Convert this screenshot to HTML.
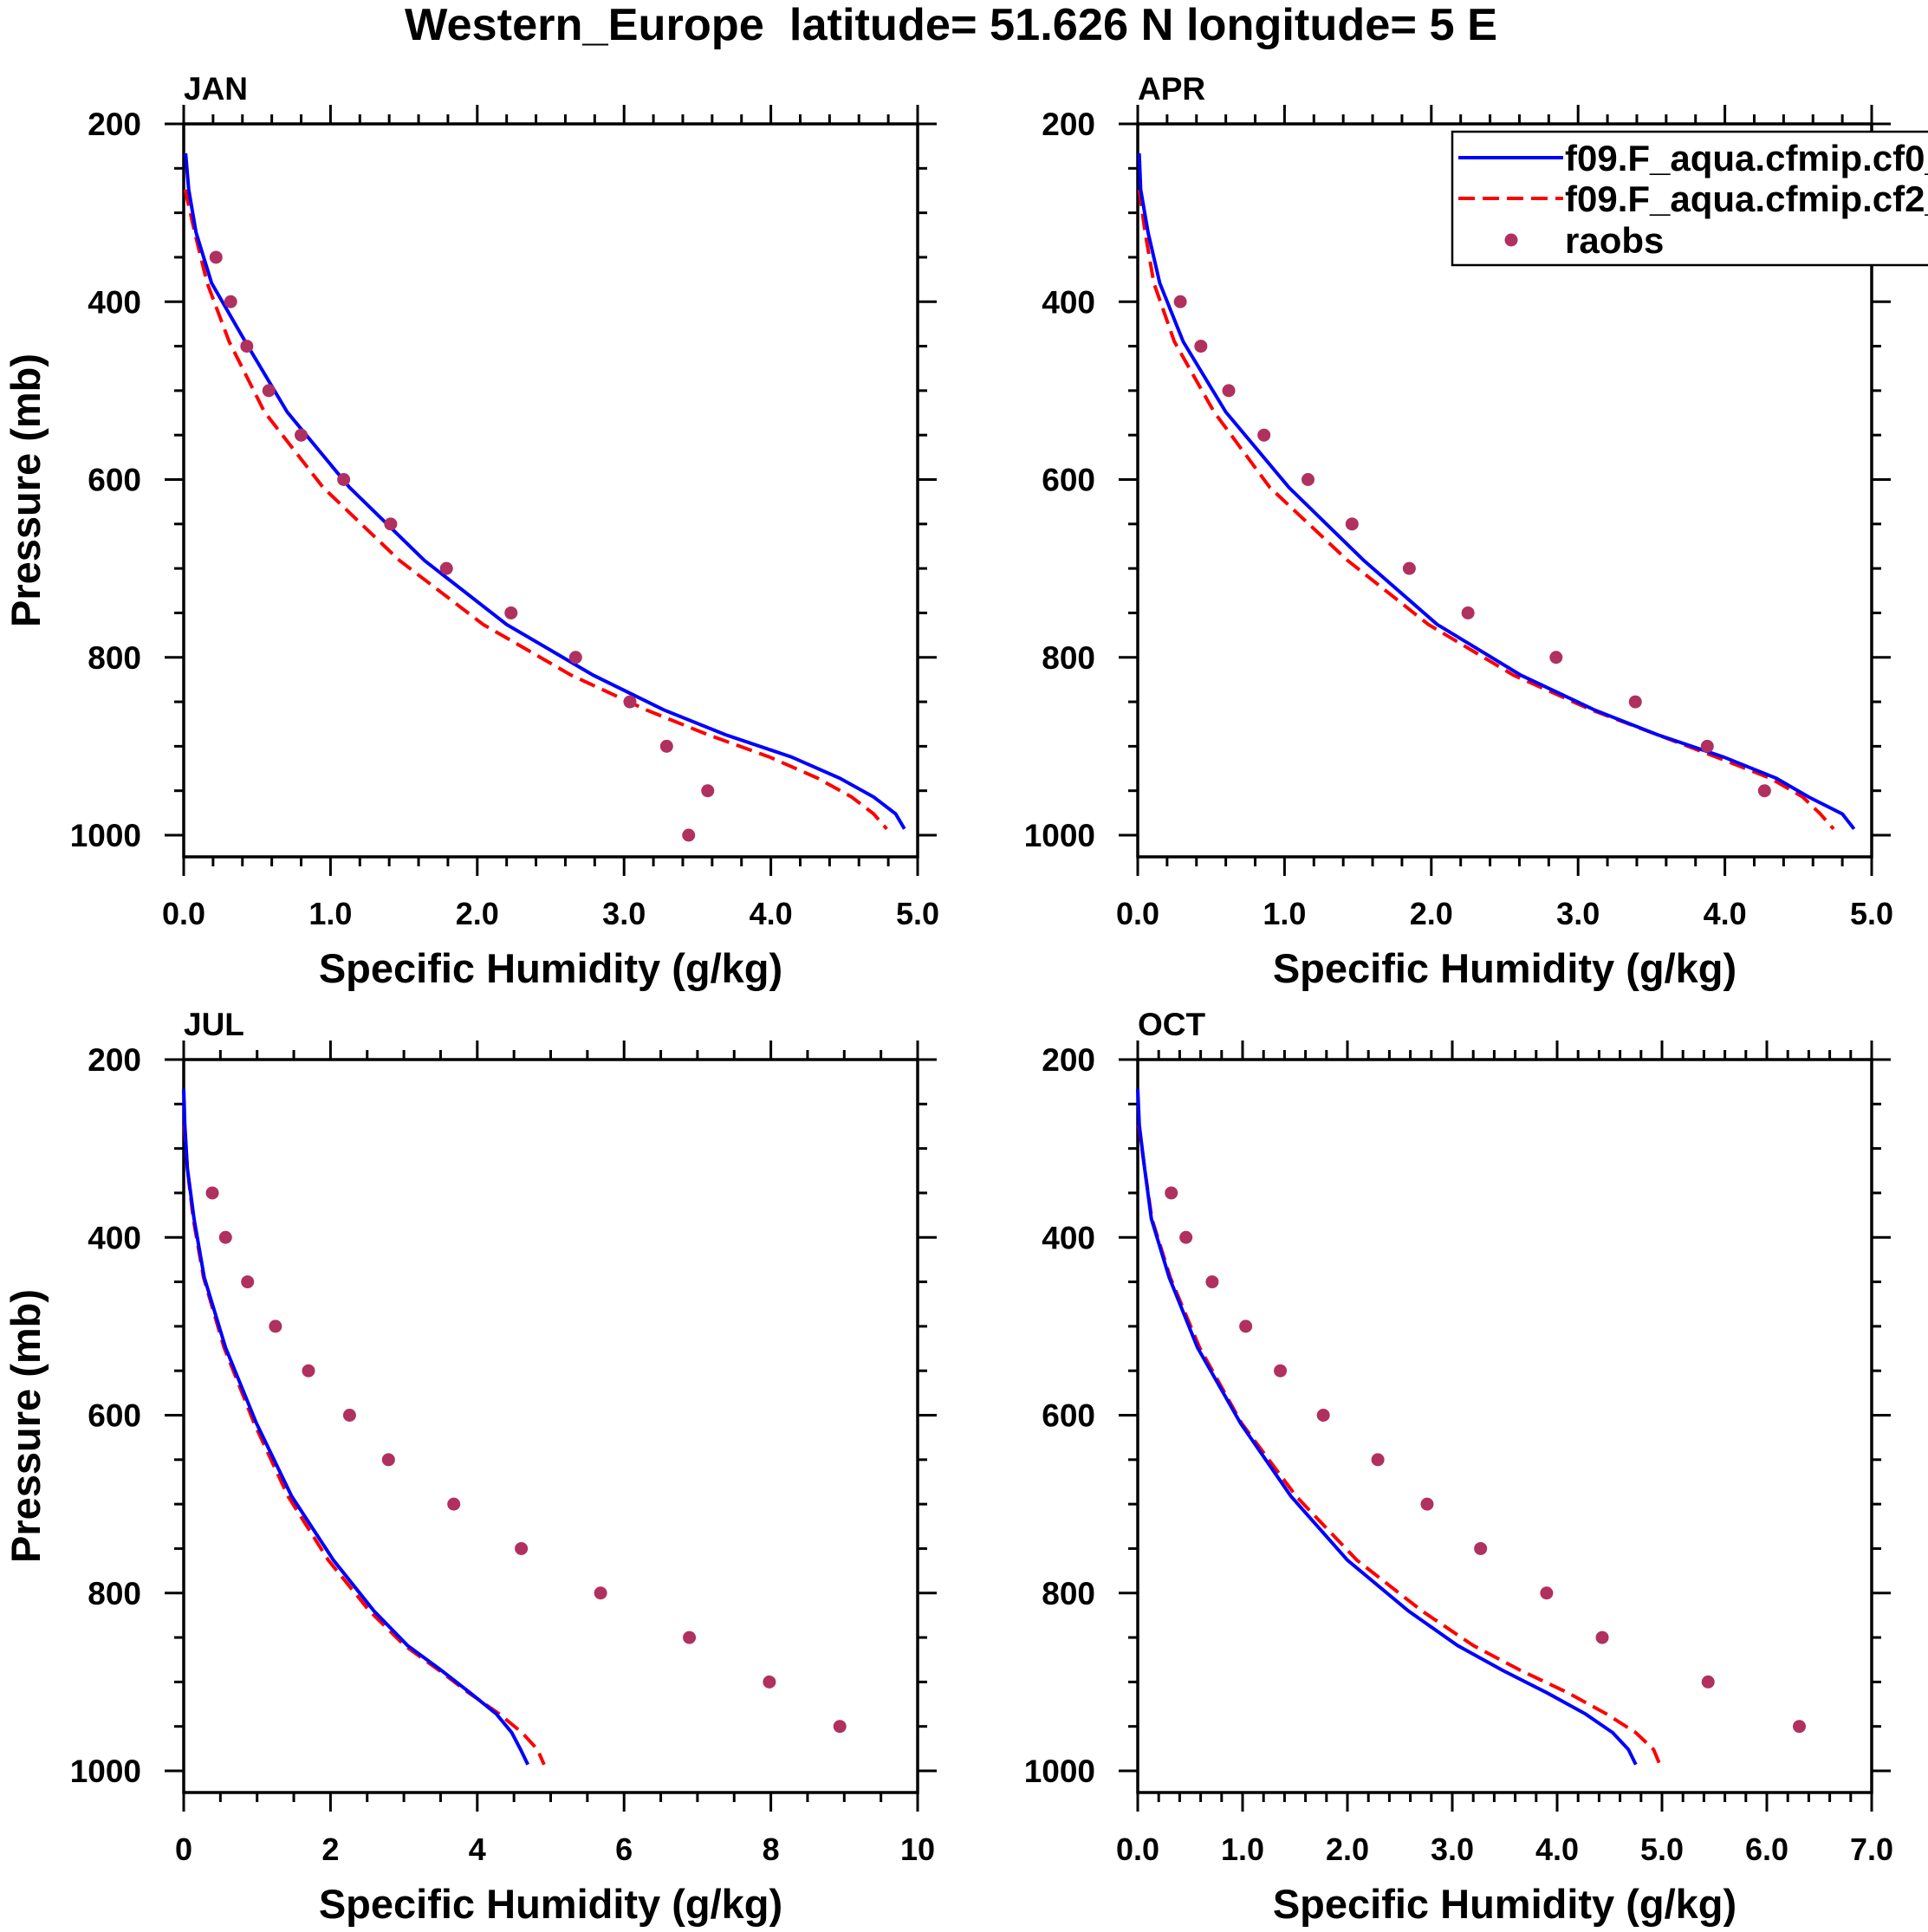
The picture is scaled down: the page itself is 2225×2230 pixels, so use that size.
<!DOCTYPE html>
<html><head><meta charset="utf-8"><style>
html,body{margin:0;padding:0;background:#fff;width:2225px;height:2230px;overflow:hidden}
svg{display:block}
text{font-family:"Liberation Sans",Arial,sans-serif;font-weight:bold;fill:#000}
</style></head><body>
<svg id="chart" width="2225" height="2230" viewBox="0 0 2225 2230" xmlns="http://www.w3.org/2000/svg">
<text x="467" y="46" font-size="52" textLength="1261" lengthAdjust="spacingAndGlyphs">Western_Europe&#160; latitude= 51.626 N longitude= 5 E</text>
<g id="panels"></g>
<g id="legend">
<rect x="1676" y="152" width="600" height="154" fill="#fff" stroke="#000" stroke-width="2.5"/>
<line x1="1683" y1="182" x2="1804" y2="182" stroke="#0000ff" stroke-width="4"/>
<text x="1806" y="197" font-size="42">f09.F_aqua.cfmip.cf0_control</text>
<line x1="1683" y1="229" x2="1804" y2="229" stroke="#ff0000" stroke-width="4" stroke-dasharray="19 9"/>
<text x="1806" y="244" font-size="42">f09.F_aqua.cfmip.cf2_experiment</text>
<circle cx="1744" cy="277" r="7.5" fill="#b03060"/>
<text x="1806" y="292" font-size="42">raobs</text>
</g>
</svg>
<script>
const modelLevels = [233,274,322,379,445,524,609,691,763,820,859,887,912,936,957,976,993];
const obsLevels = [350,400,450,500,550,600,650,700,750,800,850,900,950,1000];
const janBlue = [0.013,0.034,0.084,0.19,0.42,0.705,1.13,1.64,2.20,2.79,3.27,3.69,4.14,4.47,4.70,4.85,4.91];
const janRed  = [null,0.01,0.075,0.16,0.31,0.55,0.95,1.47,2.04,2.64,3.15,3.57,3.99,4.32,4.55,4.70,4.79];
const janObs  = [0.22,0.32,0.43,0.58,0.80,1.09,1.41,1.79,2.23,2.67,3.04,3.29,3.57,3.44];
const aprBlue = [0.01,0.02,0.07,0.15,0.31,0.60,1.03,1.54,2.04,2.61,3.11,3.54,3.99,4.35,4.57,4.80,4.88];
const aprRed  = [null,0.01,0.05,0.11,0.25,0.52,0.90,1.43,1.98,2.56,3.09,3.54,3.94,4.31,4.53,4.65,4.74];
const aprObs  = [null,0.29,0.43,0.62,0.86,1.16,1.46,1.85,2.25,2.85,3.39,3.88,4.27,null];
const julBlue = [0.0,0.015,0.05,0.14,0.28,0.57,0.99,1.47,2.04,2.59,3.05,3.51,3.90,4.26,4.47,4.59,4.69];
const julRed  = [null,0.01,0.05,0.13,0.27,0.55,0.96,1.42,1.97,2.53,3.01,3.48,3.88,4.30,4.61,4.82,4.91];
const julObs  = [0.39,0.57,0.87,1.25,1.70,2.26,2.79,3.68,4.60,5.68,6.89,7.98,8.94,null];
const octBlue = [0.0,0.015,0.065,0.13,0.30,0.57,0.98,1.46,2.0,2.58,3.05,3.48,3.90,4.27,4.53,4.68,4.75];
const octRed  = [null,0.01,0.065,0.135,0.31,0.59,0.99,1.51,2.09,2.71,3.20,3.65,4.10,4.47,4.75,4.92,4.98];
const octObs  = [0.32,0.46,0.71,1.03,1.36,1.77,2.29,2.76,3.27,3.90,4.43,5.44,6.31,null];
const monthNames = ["JAN","APR","JUL","OCT"];
const pTicks = [200,400,600,800,1000];
const xTicksA = ["0.0","1.0","2.0","3.0","4.0","5.0"];
const xTicksJul = ["0","2","4","6","8","10"];
const xTicksOct = ["0.0","1.0","2.0","3.0","4.0","5.0","6.0","7.0"];

const NS = "http://www.w3.org/2000/svg";
const root = document.getElementById("panels");
function mk(tag, attrs, parent){const e=document.createElementNS(NS,tag);for(const k in attrs)e.setAttribute(k,attrs[k]);parent.appendChild(e);return e;}

const panels = [
 {name:"jan",x0:212,y0:143,xmax:5,minor:0.2,ticks:xTicksA,blue:janBlue,red:janRed,obs:janObs,label:monthNames[0],ylab:true},
 {name:"apr",x0:1313,y0:143,xmax:5,minor:0.2,ticks:xTicksA,blue:aprBlue,red:aprRed,obs:aprObs,label:monthNames[1],ylab:false},
 {name:"jul",x0:212,y0:1223,xmax:10,minor:0.5,ticks:xTicksJul,blue:julBlue,red:julRed,obs:julObs,label:monthNames[2],ylab:true},
 {name:"oct",x0:1313,y0:1223,xmax:7,minor:0.2,ticks:xTicksOct,blue:octBlue,red:octRed,obs:octObs,label:monthNames[3],ylab:false}
];
const W=847,H=846,PMIN=200,PMAX=200+H/1.02625;

panels.forEach(p=>{
  const g=mk("g",{},root);
  
  
  const sx=v=>p.x0+v/p.xmax*W;
  const sy=v=>p.y0+(v-PMIN)/(PMAX-PMIN)*H;
  const x1=p.x0+W,y1=p.y0+H;
  const nMinor=Math.round(p.xmax/p.minor);
  const majEvery=Math.round((p.xmax/(p.ticks.length-1))/p.minor);
  for(let i=0;i<=nMinor;i++){
    const x=sx(i*p.minor),len=(i%majEvery===0)?22:11;
    const t1=mk("line",{x1:x,y1:p.y0,x2:x,y2:p.y0-len,stroke:"#000","stroke-width":3},g);
    
    
    const t2=mk("line",{x1:x,y1:y1,x2:x,y2:y1+len,stroke:"#000","stroke-width":3},g);
    
    
  }
  for(let v=200;v<=1000;v+=50){
    const y=sy(v),len=(v%200===0)?22:11;
    const t1=mk("line",{x1:p.x0,y1:y,x2:p.x0-len,y2:y,stroke:"#000","stroke-width":3},g);
    
    
    const t2=mk("line",{x1:x1,y1:y,x2:x1+len,y2:y,stroke:"#000","stroke-width":3},g);
    
    
  }
  const fr=mk("rect",{x:p.x0,y:p.y0,width:W,height:H,fill:"none",stroke:"#000","stroke-width":3.5},g);
  
  
  p.ticks.forEach((t,i)=>{
    const tx=mk("text",{x:sx(i*p.xmax/(p.ticks.length-1)),y:y1+78,"font-size":36,"text-anchor":"middle"},g);
    tx.textContent=t;
    
    
  });
  pTicks.forEach(t=>{
    const ty=mk("text",{x:p.x0-49,y:sy(t)+13,"font-size":37,"text-anchor":"end"},g);
    ty.textContent=t;
    
    
  });
  const lb=mk("text",{x:p.x0,y:p.y0-28,"font-size":37},g);
  lb.textContent=p.label;
  
  
  const xt=mk("text",{x:p.x0+W/2,y:y1+145,"font-size":47,"text-anchor":"middle"},g);
  xt.textContent="Specific Humidity (g/kg)";
  
  
  if(p.ylab){
    const yt=mk("text",{x:0,y:0,"font-size":47,"text-anchor":"middle",transform:"translate(46,"+(p.y0+H/2)+") rotate(-90)"},g);
    yt.textContent="Pressure (mb)";
    
    
  }
  function path(arr){let d="";arr.forEach((v,i)=>{if(v===null)return;d+=(d?"L":"M")+sx(v).toFixed(1)+","+sy(modelLevels[i]).toFixed(1);});return d;}
  const rl=mk("path",{d:path(p.red),fill:"none",stroke:"#ff0000","stroke-width":4,"stroke-dasharray":"19 9"},g);
  
  
  const bl=mk("path",{d:path(p.blue),fill:"none",stroke:"#0000ff","stroke-width":4},g);
  
  
  p.obs.forEach((v,i)=>{
    if(v===null)return;
    const c=mk("circle",{cx:sx(v),cy:sy(obsLevels[i]),r:7.5,fill:"#b03060"},g);
    
    
  });
});
document.getElementById("chart").appendChild(document.getElementById("legend"));
</script>
</body></html>
